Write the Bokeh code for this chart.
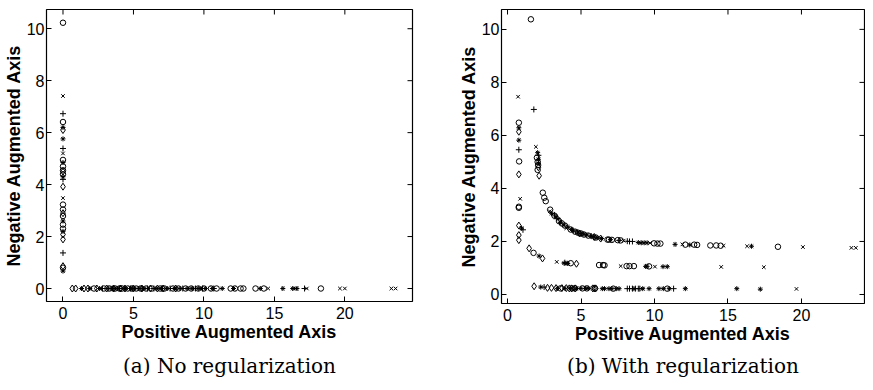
import math
from bokeh.plotting import figure
from bokeh.layouts import row
from bokeh.models import FixedTicker, Title, Range1d
from bokeh.embed import file_html
from bokeh.resources import INLINE

# ---------------- data: panel (a) No regularization ----------------
a_circle_x = [0, 0, 0, 0, 0, 0, 0, 0, 0, 0, 0, 0,
              2.2, 2.9, 3.3, 3.7, 4.0, 4.2, 4.6, 4.9, 5.2, 5.5, 5.9, 6.3, 6.9, 7.2, 7.8, 8.2, 8.7, 9.1,
              9.6, 10.0, 10.5, 10.9, 11.9, 12.2, 12.6, 12.8, 13.66, 14.25, 18.3]
a_circle_y = [10.23, 6.41, 4.95, 4.7, 4.55, 4.4, 3.23, 3.04, 2.79, 2.46, 2.3, 0.8,
              0, 0, 0, 0, 0, 0, 0, 0, 0, 0, 0, 0, 0, 0, 0, 0, 0, 0,
              0, 0, 0, 0, 0, 0, 0, 0, 0, 0, 0]
a_x_x = [0, 0, 0,
         3.8, 4.5, 5.0, 5.8, 6.8, 7.3, 8.0, 9.0, 9.8, 14.56, 16.5, 17.3, 19.65, 20.0, 23.3, 23.6]
a_x_y = [7.41, 5.2, 3.48,
         0, 0, 0, 0, 0, 0, 0, 0, 0, 0, 0, 0, 0, 0, 0, 0]
a_plus_x = [0, 0, 0, 0,
            2.8, 3.2, 3.5, 4.0, 4.8, 5.6, 6.0, 6.45, 7.0, 7.6, 8.5, 9.4, 9.9, 10.7, 17.14]
a_plus_y = [6.73, 5.39, 4.2, 1.37,
            0, 0, 0, 0, 0, 0, 0, 0, 0, 0, 0, 0, 0, 0, 0]
a_star_x = [0, 0, 0, 0, 0, 0, 0,
            1.32, 1.9, 2.6, 3.4, 3.6, 3.9, 4.4, 4.8, 5.1, 5.4, 5.7, 6.6, 7.0, 7.4, 7.9, 8.3, 8.8, 9.2,
            9.6, 10.1, 10.6, 11.3, 12.1, 14.0, 15.6, 16.3, 16.6]
a_star_y = [6.2, 5.76, 4.85, 4.3, 2.6, 2.2, 0.67,
            0, 0, 0, 0, 0, 0, 0, 0, 0, 0, 0, 0, 0, 0, 0, 0, 0, 0,
            0, 0, 0, 0, 0, 0, 0, 0, 0]
a_diam_x = [0, 0, 0, 0, 0, 0, 0,
            0.66, 0.9, 1.49, 1.77, 2.4, 3.1, 3.6, 4.1, 4.4, 5.0, 5.6, 6.2, 6.7, 7.1, 8.0]
a_diam_y = [6.1, 4.5, 3.92, 2.9, 2.08, 1.89, 0.86,
            0, 0, 0, 0, 0, 0, 0, 0, 0, 0, 0, 0, 0, 0, 0]

# ---------------- data: panel (b) With regularization ----------------
b_circle_x = [1.59, 0.77, 0.79, 0.77, 0.77, 2.0, 2.05, 2.05, 2.08, 2.4, 2.5, 2.6, 2.9, 3.2, 3.5, 3.7, 3.9,
              4.3, 4.6, 4.8, 5.0, 5.2, 5.5, 6.0, 6.8, 6.9, 7.1, 7.5, 7.7, 9.97, 10.2, 10.4,
              12.1, 12.7, 12.9, 13.8, 14.2, 14.5, 18.4,
              1.77, 4.3, 6.23, 6.5, 6.6, 8.1, 8.3, 8.6, 9.63,
              3.6, 4.4, 4.6, 5.1, 5.4, 5.95, 7.2, 10.87]
b_circle_y = [10.38, 6.48, 5.02, 3.31, 3.27, 5.16, 5.0, 4.7, 4.88, 3.84, 3.65, 3.52, 3.2, 2.97, 2.77, 2.68, 2.6,
              2.45, 2.37, 2.33, 2.3, 2.26, 2.22, 2.15, 2.07, 2.07, 2.06, 2.05, 2.04, 1.93, 1.92, 1.92,
              1.88, 1.88, 1.87, 1.85, 1.85, 1.84, 1.8,
              1.57, 1.18, 1.11, 1.11, 1.1, 1.07, 1.07, 1.07, 1.06,
              0.23, 0.23, 0.23, 0.23, 0.23, 0.23, 0.22, 0.22]
b_x_x = [0.72, 0.86, 1.93, 2.88, 3.3, 4.0, 7.9, 9.7, 11.9, 14.7, 16.3, 20.1, 23.4, 23.7,
         3.35, 7.7, 10.03, 14.54, 17.44,
         9.2, 19.66]
b_x_y = [7.46, 3.61, 5.57, 3.14, 2.9, 2.5, 2.03, 1.94, 1.89, 1.84, 1.82, 1.79, 1.76, 1.76,
         1.23, 1.07, 1.05, 1.04, 1.03,
         0.22, 0.21]
b_plus_x = [1.79, 0.77, 1.05, 2.1, 3.2, 5.7, 7.6, 8.15, 8.3, 8.5,
            3.9,
            2.49, 8.15, 8.3, 8.5, 8.7, 8.9, 9.0, 11.3]
b_plus_y = [6.98, 5.46, 2.44, 5.25, 3.0, 2.2, 2.04, 2.01, 2.0, 2.0,
            1.2,
            0.28, 0.22, 0.22, 0.22, 0.22, 0.22, 0.22, 0.22]
b_star_x = [0.77, 0.77, 0.95, 2.05, 2.1, 2.1, 3.0, 3.3, 3.45, 3.6, 3.85, 4.1, 4.35, 4.5, 4.76, 5.0, 5.2,
            5.4, 5.66, 5.9, 6.1, 6.4, 7.0, 8.9, 9.1, 9.3, 9.5, 11.4, 12.4, 16.6,
            2.15, 3.85, 4.05, 4.1, 9.4, 9.5, 10.58, 10.87,
            2.26, 3.4, 3.9, 4.3, 4.7, 5.0, 5.3, 5.5, 6.45, 6.6, 6.9, 7.1, 7.4, 7.59, 8.6, 9.2, 9.63,
            10.3, 10.6, 11.0, 12.1, 15.6, 17.2]
b_star_y = [6.29, 5.82, 2.5, 5.35, 5.1, 4.95, 3.05, 2.93, 2.85, 2.72, 2.62, 2.55, 2.45, 2.4, 2.35, 2.3, 2.27,
            2.24, 2.2, 2.17, 2.14, 2.11, 2.07, 1.96, 1.95, 1.95, 1.95, 1.89, 1.87, 1.82,
            1.45, 1.18, 1.18, 1.17, 1.06, 1.06, 1.05, 1.05,
            0.28, 0.23, 0.23, 0.23, 0.23, 0.23, 0.23, 0.23, 0.22, 0.22, 0.22, 0.22, 0.22, 0.22, 0.22, 0.22, 0.22,
            0.22, 0.22, 0.22, 0.22, 0.22, 0.2]
b_diam_x = [0.77, 0.77, 0.77, 0.77, 0.77, 2.1, 2.15, 4.9, 5.9, 6.34,
            1.47, 2.38, 4.69,
            1.81, 2.72, 2.99, 3.3, 3.7, 4.0, 4.2, 4.35, 4.6, 5.8, 5.9, 6.0]
b_diam_y = [6.14, 4.53, 2.6, 2.24, 2.05, 4.8, 4.48, 2.3, 2.17, 2.11,
            1.74, 1.36, 1.16,
            0.31, 0.25, 0.25, 0.24, 0.24, 0.24, 0.23, 0.23, 0.23, 0.23, 0.23, 0.23]

x_ticks = [0, 5, 10, 15, 20]
y_ticks = [0, 2, 4, 6, 8, 10]

FONT = "Liberation Sans"


def make_panel(caption, xr, yr, fw, fh, bl, br, bt, bb, cap_standoff, series):
    p = figure(frame_width=fw, frame_height=fh, output_backend="svg", toolbar_location=None,
               x_range=Range1d(*xr), y_range=Range1d(*yr),
               min_border_left=bl, min_border_right=br, min_border_top=bt, min_border_bottom=bb,
               background_fill_color="white", border_fill_color="white")
    p.grid.visible = False
    p.outline_line_color = "black"
    p.outline_line_width = 1.2
    for ax in (p.xaxis[0], p.yaxis[0]):
        ax.major_tick_in = 5
        ax.major_tick_out = 0
        ax.minor_tick_line_color = None
        ax.axis_line_color = None
        ax.major_tick_line_color = "black"
        ax.major_label_text_font = FONT
        ax.major_label_text_font_size = "16px"
        ax.major_label_text_color = "black"
        ax.axis_label_text_font = FONT
        ax.axis_label_text_font_style = "bold"
        ax.axis_label_text_font_size = "18px"
        ax.axis_label_text_color = "black"
    p.xaxis.ticker = FixedTicker(ticks=x_ticks)
    p.yaxis.ticker = FixedTicker(ticks=y_ticks)
    p.xaxis.axis_label = "Positive Augmented Axis"
    p.yaxis.axis_label = "Negative Augmented Axis"
    p.xaxis.major_label_standoff = 5
    p.xaxis.axis_label_standoff = 0
    p.yaxis.major_label_standoff = 2
    p.yaxis.axis_label_standoff = 0
    # mirrored inward ticks on the top and right edges (clipped to the frame)
    p.scatter(x_ticks, [yr[1]] * len(x_ticks), marker="dash", angle=math.pi / 2, size=10,
              line_color="black", line_width=1)
    p.scatter([xr[1]] * len(y_ticks), y_ticks, marker="dash", size=10,
              line_color="black", line_width=1)
    p.add_layout(Title(text=caption, align="center", text_font="DejaVu Serif",
                       text_font_style="normal", text_font_size="20px", text_color="black",
                       standoff=cap_standoff), "below")
    for xs, ys, marker, size in series:
        p.scatter(xs, ys, marker=marker, size=size, fill_color=None,
                  line_color="black", line_width=1.0)
    return p


pa = make_panel("(a) No regularization", (-1.17, 24.8), (-0.5, 10.74), 366, 292, 33, 24, 9, 84, 14,
                [(a_circle_x, a_circle_y, "circle", 5.5),
                 (a_x_x, a_x_y, "x", 5),
                 (a_plus_x, a_plus_y, "cross", 6),
                 (a_star_x, a_star_y, "asterisk", 5),
                 (a_diam_x, a_diam_y, "diamond", 7)])
pb = make_panel("(b) With regularization", (-0.41, 24.29), (-0.34, 10.75), 363, 294, 65, 1, 0, 84, 11,
                [(b_circle_x, b_circle_y, "circle", 5.5),
                 (b_x_x, b_x_y, "x", 5),
                 (b_plus_x, b_plus_y, "cross", 6),
                 (b_star_x, b_star_y, "asterisk", 5),
                 (b_diam_x, b_diam_y, "diamond", 7)])

layout = row(pa, pb)
open("out.html", "w").write(file_html(layout, INLINE))
